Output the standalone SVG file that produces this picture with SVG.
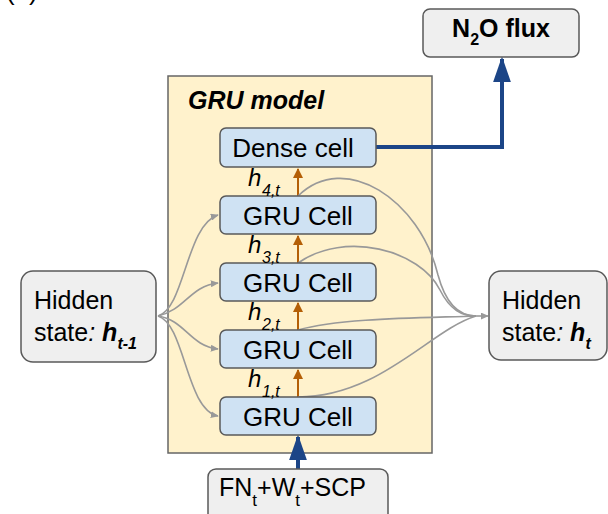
<svg xmlns="http://www.w3.org/2000/svg" width="608" height="514" viewBox="0 0 608 514">
<style>
text{font-family:"Liberation Sans",Arial,sans-serif;fill:#000}
.t{font-size:25px}
.c{font-size:26px}
.cell{fill:#cfe2f3;stroke:#595959;stroke-width:1.5}
.grey{fill:#efefef;stroke:#595959;stroke-width:1.5}
.g{fill:none;stroke:#999;stroke-width:1.6}
.o{fill:none;stroke:#b45f06;stroke-width:2}
.b{fill:none;stroke:#1c4587;stroke-width:4}
.hl{font-size:24px;font-style:italic}
.hs{font-size:16px;font-style:italic}
</style>
<defs>
<marker id="ga" viewBox="0 0 10 10" refX="9" refY="5" markerWidth="8" markerHeight="7" orient="auto" markerUnits="userSpaceOnUse" preserveAspectRatio="none">
<path d="M0,0 L10,5 L0,10 z" fill="#999"/>
</marker>
<marker id="oa" viewBox="0 0 10 10" refX="9" refY="5" markerWidth="10" markerHeight="10" orient="auto" markerUnits="userSpaceOnUse">
<path d="M0,0 L10,5 L0,10 z" fill="#b45f06"/>
</marker>
<marker id="ba" viewBox="0 0 10 10" refX="9" refY="5" markerWidth="26" markerHeight="18" orient="auto" markerUnits="userSpaceOnUse" preserveAspectRatio="none">
<path d="M0,0 L10,5 L0,10 z" fill="#1c4587"/>
</marker>
</defs>
<text x="6" y="0" style="font-size:26px">(a)</text>
<g id="gru-model">
<rect x="168" y="76" width="264" height="377" fill="#fff2cc" stroke="#666" stroke-width="1.5"/>
<text x="188" y="109" class="t" style="font-weight:bold;font-style:italic">GRU model</text>
</g>
<g id="connectors">
<path class="b" d="M376,147 H502 V59" marker-end="url(#ba)"/>
<path class="b" d="M298,469 V437" marker-end="url(#ba)"/>
<path class="o" d="M298,196 V169" marker-end="url(#oa)"/>
<path class="o" d="M298,263 V236" marker-end="url(#oa)"/>
<path class="o" d="M298,330 V303" marker-end="url(#oa)"/>
<path class="o" d="M298,397 V370" marker-end="url(#oa)"/>
<path class="g" d="M158,316 C185,308 186,225 218,215" marker-end="url(#ga)"/>
<path class="g" d="M158,316 C185,310 190,286 218,283" marker-end="url(#ga)"/>
<path class="g" d="M158,316 C185,320 190,346 218,349" marker-end="url(#ga)"/>
<path class="g" d="M158,316 C185,324 186,410 218,416" marker-end="url(#ga)"/>
<path class="g" d="M298,196 C345,150 420,200 438,275 C446,305 460,316 476,316"/>
<path class="g" d="M298,263 C345,230 420,250 440,290 C450,310 462,316 476,316"/>
<path class="g" d="M298,330 C340,318 420,318 476,316"/>
<path class="g" d="M298,397 C380,397 430,330 476,316"/>
<path class="g" d="M470,316 H488" marker-end="url(#ga)"/>
</g>
<g id="dense-cell">
<rect class="cell" x="220" y="128" width="156" height="39" rx="6"/>
<text x="293" y="157" class="c" text-anchor="middle">Dense cell</text>
</g>
<g id="gru-cell-4">
<rect class="cell" x="220" y="196" width="156" height="38" rx="6"/>
<text x="298" y="225" class="c" text-anchor="middle">GRU Cell</text>
</g>
<g id="gru-cell-3">
<rect class="cell" x="220" y="263" width="156" height="38" rx="6"/>
<text x="298" y="292" class="c" text-anchor="middle">GRU Cell</text>
</g>
<g id="gru-cell-2">
<rect class="cell" x="220" y="330" width="156" height="38" rx="6"/>
<text x="298" y="359" class="c" text-anchor="middle">GRU Cell</text>
</g>
<g id="gru-cell-1">
<rect class="cell" x="220" y="397" width="156" height="38" rx="6"/>
<text x="298" y="426" class="c" text-anchor="middle">GRU Cell</text>
</g>
<g id="labels">
<text x="248" y="186" class="hl">h</text><text x="262" y="196" class="hs">4,t</text>
<text x="248" y="253" class="hl">h</text><text x="262" y="263" class="hs">3,t</text>
<text x="248" y="320" class="hl">h</text><text x="262" y="330" class="hs">2,t</text>
<text x="248" y="387" class="hl">h</text><text x="262" y="397" class="hs">1,t</text>
</g>
<g id="hidden-prev">
<rect class="grey" x="21" y="271" width="135" height="91" rx="12"/>
<text x="34" y="309" class="t">Hidden</text>
<text x="34" y="341" class="t">state<tspan style="font-style:italic">: </tspan><tspan style="font-weight:bold;font-style:italic">h</tspan><tspan dy="8" style="font-weight:bold;font-style:italic;font-size:16px">t-1</tspan></text>
</g>
<g id="hidden-next">
<rect class="grey" x="489" y="271" width="118" height="89" rx="12"/>
<text x="502" y="309" class="t">Hidden</text>
<text x="502" y="341" class="t">state<tspan style="font-style:italic">: </tspan><tspan style="font-weight:bold;font-style:italic">h</tspan><tspan dy="8" style="font-weight:bold;font-style:italic;font-size:16px">t</tspan></text>
</g>
<g id="n2o-flux">
<rect class="grey" x="423" y="9" width="156" height="48" rx="7"/>
<text x="501" y="37" class="t" text-anchor="middle" style="font-weight:bold">N<tspan dy="8" style="font-size:16px">2</tspan><tspan dy="-8">O flux</tspan></text>
</g>
<g id="input">
<rect class="grey" x="208" y="469" width="180" height="60" rx="8"/>
<text x="219" y="496" class="t">FN<tspan dy="10" style="font-size:17px">t</tspan><tspan dy="-10">+W</tspan><tspan dy="10" style="font-size:17px">t</tspan><tspan dy="-10">+SCP</tspan></text>
</g>
</svg>
